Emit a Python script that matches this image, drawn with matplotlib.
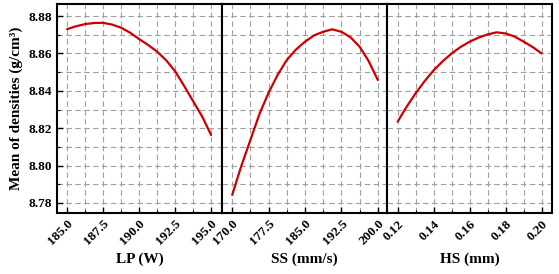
import numpy as np
import matplotlib
matplotlib.use("Agg")
import matplotlib.pyplot as plt
from matplotlib.ticker import FixedLocator, FormatStrFormatter, MultipleLocator

# values
lp_x = [185.0, 185.6, 186.25, 186.9, 187.5, 188.1, 188.75, 189.4, 190.0, 190.6,
        191.25, 191.9, 192.5, 193.1, 193.75, 194.4, 195.0]
lp_y = [8.873, 8.8745, 8.8757, 8.8763, 8.8764, 8.8755, 8.8738, 8.871, 8.8677, 8.8647,
        8.861, 8.8562, 8.8505, 8.843, 8.8345, 8.826, 8.8164]

ss_x = [170.0, 171.9, 173.75, 175.6, 177.5, 179.4, 181.25, 183.1, 185.0, 186.9,
        188.75, 190.6, 192.5, 194.4, 196.25, 198.1, 200.0]
ss_y = [8.7843, 8.8, 8.8137, 8.8275, 8.839, 8.8487, 8.8565, 8.862, 8.8663, 8.8697,
        8.8716, 8.8729, 8.8716, 8.8686, 8.8636, 8.856, 8.8458]

hs_x = [0.12, 0.125, 0.13, 0.135, 0.14, 0.145, 0.15, 0.155, 0.16, 0.165, 0.17,
        0.175, 0.18, 0.185, 0.19, 0.195, 0.20]
hs_y = [8.8235, 8.8315, 8.8387, 8.8452, 8.851, 8.8558, 8.860, 8.8635, 8.8663, 8.8685, 8.8702,
        8.8713, 8.8707, 8.869, 8.8663, 8.8634, 8.860]

labels = ['LP (W)', 'SS (mm/s)', 'HS (mm)']
lp_ticks = [185.0, 187.5, 190.0, 192.5, 195.0]
ss_ticks = [170.0, 177.5, 185.0, 192.5, 200.0]
hs_ticks = [0.12, 0.14, 0.16, 0.18, 0.20]
xticks = [lp_ticks, ss_ticks, hs_ticks]
xlims = [(184.3, 195.76), (167.9, 201.9), (0.1141, 0.2057)]
fmts = ['%.1f', '%.1f', '%.2f']

plt.rcParams['font.family'] = ['Liberation Serif', 'DejaVu Serif']
plt.rcParams['font.weight'] = 'bold'

fig, axes = plt.subplots(1, 3, figsize=(5.59, 2.74), dpi=100, sharey=True)
fig.subplots_adjust(left=0.102, right=0.9875, top=0.985, bottom=0.223, wspace=0)

series = [(lp_x, lp_y), (ss_x, ss_y), (hs_x, hs_y)]
for i, ax in enumerate(axes):
    x, y = series[i]
    ax.plot(x, y, color='#cc0000', lw=1.6, solid_capstyle='round', solid_joinstyle='round')
    ax.set_xlim(*xlims[i])
    ax.set_ylim(8.7747, 8.8864)
    t = xticks[i]
    step = (t[1] - t[0]) / 2
    ax.xaxis.set_major_locator(FixedLocator(t))
    ax.xaxis.set_minor_locator(FixedLocator([v + step for v in t[:-1]]))
    ax.yaxis.set_major_locator(MultipleLocator(0.02))
    ax.yaxis.set_minor_locator(MultipleLocator(0.01))
    ax.xaxis.set_major_formatter(FormatStrFormatter(fmts[i]))
    ax.yaxis.set_major_formatter(FormatStrFormatter('%.2f'))
    ax.grid(True, which='both', color='#a0a0a0', ls=(0, (5, 3)), lw=0.8)
    ax.set_axisbelow(True)
    for s in ax.spines.values():
        s.set_linewidth(1.5)
        s.set_color('black')
    ax.tick_params(which='major', direction='in', length=4, width=1.0, labelsize=9.5)
    ax.tick_params(which='minor', direction='in', length=2, width=0.8)
    ax.tick_params(axis='y', which='both', left=(i == 0), right=False)
    for lab in ax.get_xticklabels():
        lab.set_rotation(45)
        lab.set_ha('right')
        lab.set_rotation_mode('anchor')
        lab.set_fontweight('bold')
    for lab in ax.get_yticklabels():
        lab.set_fontweight('bold')
    ax.set_xlabel(labels[i], fontsize=11, fontweight='bold', va='center')
    ax.xaxis.set_label_coords(0.5, -0.222)

axes[0].set_ylabel('Mean of densities (g/cm³)', fontsize=11, fontweight='bold')

fig.savefig('out.png', dpi=100)
